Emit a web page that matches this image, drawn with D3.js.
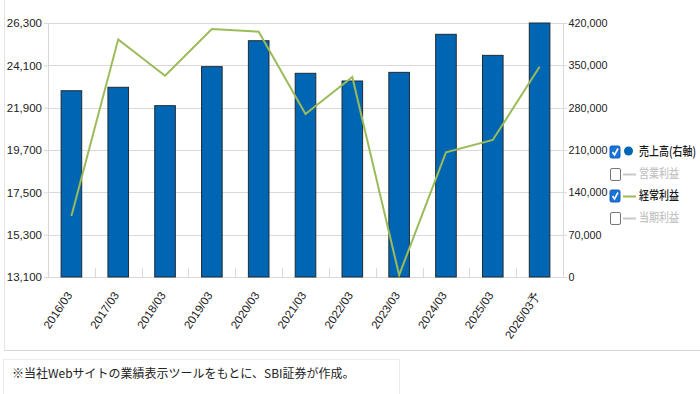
<!DOCTYPE html>
<html><head><meta charset="utf-8">
<script src="https://cdn.jsdelivr.net/npm/d3@7"></script>
<style>body{margin:0;background:#fff;overflow:hidden}</style>
</head><body><svg id="c" width="700" height="394"></svg>
<script>
const categories = ["2016/03","2017/03","2018/03","2019/03","2020/03","2021/03","2022/03","2023/03","2024/03","2025/03","2026/03予"];
const sales = [308000, 313700, 283300, 347800, 390700, 336800, 324100, 338400, 401300, 366500, 420000];
const ordinaryProfit = [16270, 25450, 23560, 25990, 25850, 21570, 23490, 13200, 19580, 20220, 24030];
const leftTicks = [13100, 15300, 17500, 19700, 21900, 24100, 26300];
const rightTicks = [0, 70000, 140000, 210000, 280000, 350000, 420000];
const legendLabels = ["売上高(右軸)", "営業利益", "経常利益", "当期利益"];
const legendChecked = [true, false, true, false];
const legendMarks = ["dot", "dash", "dash", "dash"];
const footnote = "※当社Webサイトの業績表示ツールをもとに、SBI証券が作成。";

const svg = d3.select("#c");
const L = 48, R = 563, T = 23, B = 277;
const gridC = "#d9d9d9";
const numFont = "'Liberation Sans', Arial, sans-serif";
const cjkFont = "'Noto Sans CJK JP', sans-serif";

// frame
svg.append("line").attr("x1",4.5).attr("x2",4.5).attr("y1",0).attr("y2",350).attr("stroke","#e3e3e3");
svg.append("line").attr("x1",4.5).attr("x2",700).attr("y1",350.5).attr("y2",350.5).attr("stroke","#d6d6d6");

const x = d3.scaleBand().domain(categories).range([L, R]).paddingInner(0.56).paddingOuter(0.28);
const yL = d3.scaleLinear().domain([13100, 26300]).range([B, T]);
const yR = d3.scaleLinear().domain([0, 420000]).range([B, T]);

// gridlines
svg.append("g").selectAll("line").data(leftTicks).join("line")
  .attr("x1", L).attr("x2", R)
  .attr("y1", d => Math.round(yL(d)) + 0.5).attr("y2", d => Math.round(yL(d)) + 0.5)
  .attr("stroke", gridC);

// left axis
const gl = svg.append("g").attr("transform", `translate(${L},0)`)
  .call(d3.axisLeft(yL).tickValues(leftTicks).tickFormat(d3.format(",")).tickSize(4).tickPadding(2));
gl.select(".domain").attr("stroke", gridC);
gl.selectAll(".tick line").attr("stroke", gridC);
gl.selectAll("text").attr("font-family", numFont).attr("font-size", 11.5).attr("fill", "#222");

// right axis
const gr = svg.append("g").attr("transform", `translate(${R},0)`)
  .call(d3.axisRight(yR).tickValues(rightTicks).tickFormat(d3.format(",")).tickSize(4).tickPadding(1.5));
gr.select(".domain").attr("stroke", gridC);
gr.selectAll(".tick line").attr("stroke", gridC);
gr.selectAll("text").attr("font-family", numFont).attr("font-size", 10.8).attr("fill", "#222");

// x axis
const gx = svg.append("g").attr("transform", `translate(0,${B})`)
  .call(d3.axisBottom(x).tickSize(0).tickPadding(0));
gx.select(".domain").attr("stroke", gridC);
gx.selectAll(".tick text")
  .attr("font-family", numFont).attr("font-size", 11.5).attr("fill", "#222")
  .attr("text-anchor", "end")
  .attr("transform", "translate(-2,16) rotate(-56)")
  .attr("dy", "0.35em");
// band separators
svg.append("g").selectAll("line").data(categories.slice(1)).join("line")
  .attr("x1", d => Math.round(x(d) - (x.step()-x.bandwidth())/2) + 0.5)
  .attr("x2", d => Math.round(x(d) - (x.step()-x.bandwidth())/2) + 0.5)
  .attr("y1", B - 9).attr("y2", B)
  .attr("stroke", gridC);

// bars
svg.append("g").selectAll("rect").data(sales).join("rect")
  .attr("x", (d,i) => x(categories[i]))
  .attr("width", x.bandwidth())
  .attr("y", d => yR(d))
  .attr("height", d => B - yR(d))
  .attr("fill", "#0066b3")
  .attr("stroke", "#1f2a33").attr("stroke-width", 1);

// line
const line = d3.line().x((d,i) => x(categories[i]) + x.bandwidth()/2).y(d => yL(d));
svg.append("path").datum(ordinaryProfit).attr("d", line)
  .attr("fill", "none").attr("stroke", "#9bbb59").attr("stroke-width", 2);

// legend
const lg = svg.append("g");
legendLabels.forEach((lab, i) => {
  const cy = 152 + i * 22;
  const g = lg.append("g");
  if (legendChecked[i]) {
    g.append("rect").attr("x", 610).attr("y", cy - 6).attr("width", 10).attr("height", 12).attr("rx", 1.5)
      .attr("fill", "#1a73d9").attr("stroke", "#1560b8");
    g.append("path").attr("d", `M612.5,${cy} L614.5,${cy+3} L618,${cy-3.5}`)
      .attr("fill", "none").attr("stroke", "#fff").attr("stroke-width", 1.6);
  } else {
    g.append("rect").attr("x", 610.5).attr("y", cy - 5.5).attr("width", 10).attr("height", 12).attr("rx", 1.5)
      .attr("fill", "#fff").attr("stroke", "#777");
  }
  if (legendMarks[i] === "dot") {
    g.append("circle").attr("cx", 628.5).attr("cy", cy - 1).attr("r", 4.5).attr("fill", "#0066b3");
  } else {
    g.append("line").attr("x1", 623).attr("x2", 636).attr("y1", cy + 0.5).attr("y2", cy + 0.5)
      .attr("stroke", legendChecked[i] ? "#9bbb59" : "#c8c8c8").attr("stroke-width", 2);
  }
  g.append("text").attr("x", 639).attr("y", cy).attr("dy", "0.35em")
    .attr("font-family", cjkFont).attr("font-size", 12.5)
    .attr("font-weight", legendChecked[i] ? 500 : 500)
    .attr("fill", legendChecked[i] ? "#1a1a1a" : "#c4c4c4")
    .attr("transform", `translate(639,0) scale(0.8,1) translate(-639,0)`)
    .text(lab);
});

// footnote
svg.append("rect").attr("x", 3.5).attr("y", 359.5).attr("width", 396).attr("height", 40)
  .attr("fill", "#fff").attr("stroke", "#ececec");
svg.append("text").attr("x", 12).attr("y", 378)
  .attr("font-family", cjkFont).attr("font-size", 12).attr("fill", "#222")
  .text(footnote);
</script></body></html>
